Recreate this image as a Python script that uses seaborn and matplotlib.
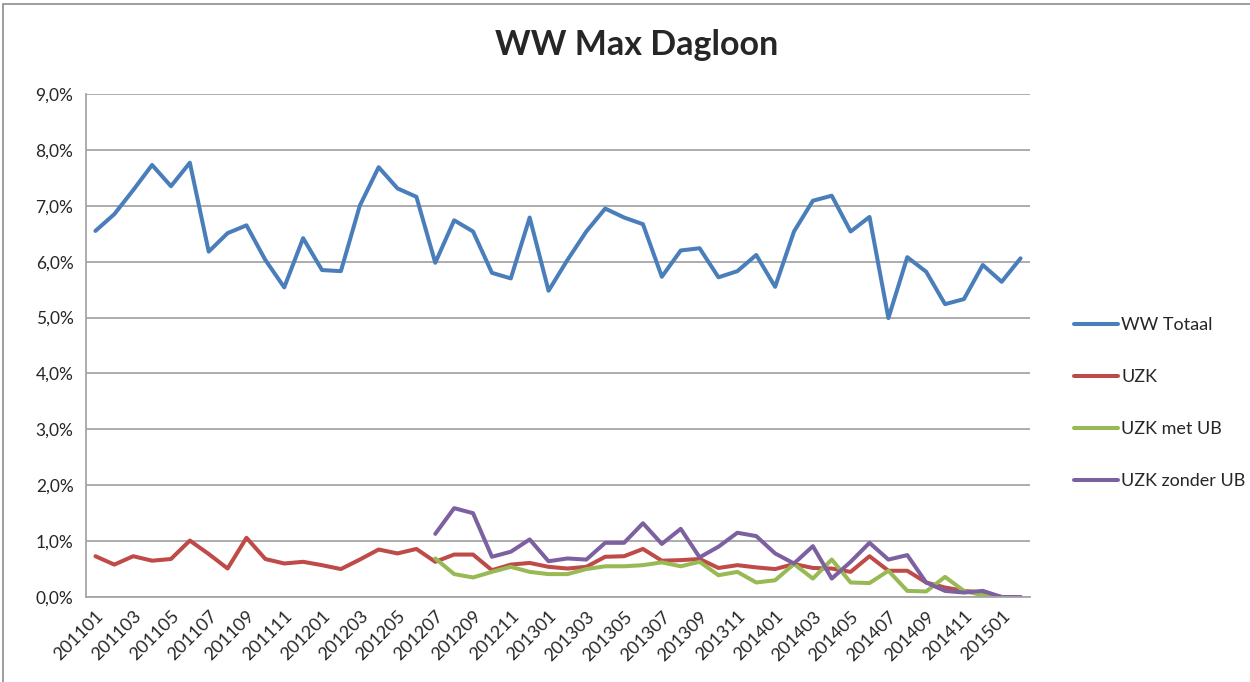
import numpy as np
import pandas as pd
import matplotlib
matplotlib.use("Agg")
import matplotlib.pyplot as plt
import seaborn as sns
from matplotlib.patches import Rectangle

# maanden 201101 .. 201502
months = [f"{y}{m:02d}" for y in range(2011, 2016) for m in range(1, 13)][:50]

ww_totaal = [6.55, 6.85, 7.28, 7.73, 7.35, 7.77, 6.18, 6.51, 6.65, 6.03,
             5.54, 6.42, 5.85, 5.83, 7.00, 7.69, 7.31, 7.16, 5.98, 6.74,
             6.54, 5.80, 5.70, 6.79, 5.48, 6.03, 6.54, 6.95, 6.79, 6.67,
             5.73, 6.20, 6.24, 5.72, 5.83, 6.12, 5.55, 6.54, 7.09, 7.18,
             6.54, 6.80, 4.99, 6.08, 5.82, 5.24, 5.33, 5.94, 5.64, 6.06]
uzk = [0.73, 0.58, 0.73, 0.65, 0.68, 1.01, 0.77, 0.51, 1.06, 0.68,
       0.60, 0.63, 0.57, 0.50, 0.67, 0.85, 0.78, 0.86, 0.63, 0.76,
       0.76, 0.48, 0.58, 0.61, 0.54, 0.51, 0.54, 0.72, 0.73, 0.86,
       0.65, 0.66, 0.68, 0.52, 0.57, 0.53, 0.50, 0.59, 0.52, 0.51,
       0.45, 0.73, 0.47, 0.47, 0.26, 0.17, 0.11, 0.08, 0.0, 0.0]
uzk_met_ub = [np.nan] * 18 + [
    0.69, 0.41, 0.35, 0.45, 0.54, 0.45, 0.41, 0.41, 0.50, 0.55,
    0.55, 0.57, 0.62, 0.55, 0.63, 0.39, 0.45, 0.26, 0.30, 0.59,
    0.33, 0.67, 0.26, 0.25, 0.47, 0.11, 0.10, 0.36, 0.11, 0.03,
    0.0, 0.0]
uzk_zonder_ub = [np.nan] * 18 + [
    1.13, 1.59, 1.50, 0.72, 0.81, 1.03, 0.64, 0.69, 0.67, 0.97,
    0.97, 1.32, 0.95, 1.22, 0.71, 0.90, 1.15, 1.09, 0.78, 0.60,
    0.91, 0.33, 0.63, 0.97, 0.67, 0.75, 0.26, 0.11, 0.08, 0.11,
    0.0, 0.0]

series = {
    "WW Totaal": ww_totaal,
    "UZK": uzk,
    "UZK met UB": uzk_met_ub,
    "UZK zonder UB": uzk_zonder_ub,
}
colors = ["#4A7EBB", "#BE4B48", "#98B954", "#7D60A0"]

df = pd.concat(
    [pd.DataFrame({"idx": range(len(months)), "waarde": v, "reeks": k})
     for k, v in series.items()]
).dropna()

sns.set_style("white")
plt.rcParams["font.family"] = ["Lato", "DejaVu Sans"]

fig = plt.figure(figsize=(12.5, 6.82), dpi=100)
ax = fig.add_axes([0.0688, 0.1246, 0.7552, 0.7376])

sns.lineplot(data=df, x="idx", y="waarde", hue="reeks", palette=colors,
             linewidth=2.9, ax=ax, legend=True)

ax.set_xlim(-0.5, len(months) - 0.5)
ax.set_ylim(0, 9)
ax.set_yticks(np.arange(0, 9.5, 1))
ax.set_yticklabels([f"{v:.1f}%".replace(".", ",") for v in np.arange(0, 9.5, 1)],
                   fontsize=12.5)
ax.grid(axis="y", color="#a6a6a6", linewidth=1.3)
ax.set_axisbelow(True)

ax.set_xticks(range(0, len(months), 2))
ax.set_xticklabels(months[::2], rotation=45, ha="right", rotation_mode="anchor",
                   fontsize=13)
ax.set_xticks(np.arange(-0.5, len(months), 1), minor=True)
ax.tick_params(axis="x", which="major", length=0, pad=8)
ax.tick_params(axis="x", which="minor", length=5, color="#a6a6a6", width=1)
ax.tick_params(axis="y", length=5, color="#a6a6a6", width=1, pad=4)
ax.set_xlabel("")
ax.set_ylabel("")

for s in ["top", "right"]:
    ax.spines[s].set_visible(False)
for s in ["left", "bottom"]:
    ax.spines[s].set_color("#a6a6a6")
    ax.spines[s].set_linewidth(1.3)

fig.text(637 / 1250, 1 - 45 / 682, "WW Max Dagloon", fontsize=24.5,
         fontweight="bold", ha="center", va="center")

leg = ax.legend(loc="center left", bbox_to_anchor=(1058 / 1250, 1 - 403 / 682),
                bbox_transform=fig.transFigure, frameon=False, fontsize=13,
                handlelength=2.4, handletextpad=0.2, labelspacing=2.0)

fig.patches.append(Rectangle((0.002, -0.01), 1.1, 1.004, transform=fig.transFigure,
                             fill=False, edgecolor="#8c8c8c", linewidth=1.2))

fig.savefig("out.png", dpi=100)
